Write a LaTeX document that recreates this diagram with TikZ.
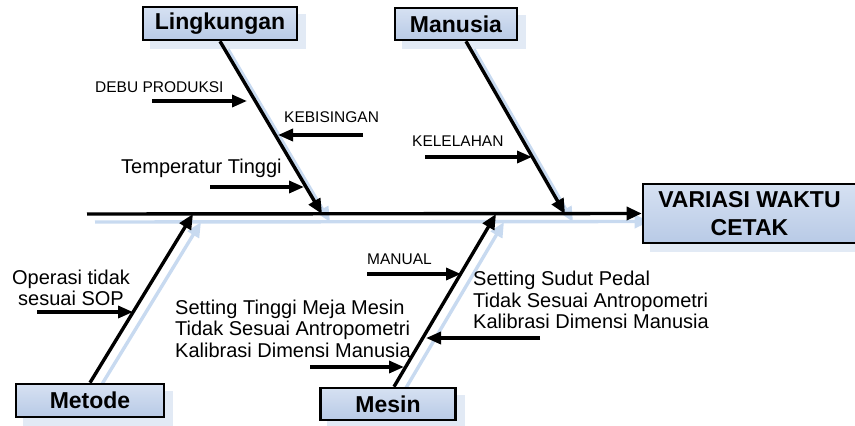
\documentclass[tikz,border=0pt]{standalone}
\usepackage{fontspec}
\setmainfont{Liberation Sans}
\usetikzlibrary{arrows.meta,backgrounds}

\definecolor{boxtop}{RGB}{214,225,242}
\definecolor{boxbot}{RGB}{184,202,230}
\definecolor{boxshade}{RGB}{226,234,245}
\definecolor{boneshade}{RGB}{200,218,240}

\begin{document}
\begin{tikzpicture}[x=1pt, y=-1pt,
  cat/.style={draw, line width=2.6pt, top color=boxtop, bottom color=boxbot,
    font=\fontsize{23}{28}\selectfont\bfseries, inner sep=0pt, align=center},
  bone/.style={line width=3.4pt, -{Triangle[length=15pt,width=13pt]}},
  sub/.style={line width=3.4pt, -{Triangle[length=15pt,width=12pt]}},
  caps/.style={font=\fontsize{15.5}{18}\selectfont, inner sep=0pt, anchor=west},
  txt/.style={font=\fontsize{20}{21.5}\selectfont, inner sep=0pt, anchor=west, align=left},
  bayang/.style={transform canvas={xshift=8pt, yshift=-8pt}}]
\useasboundingbox (0,0) rectangle (855,426);

% boxes
\node[cat, minimum width=154pt, minimum height=33pt] (lingkungan) at (220,23.5) {Lingkungan};
\node[cat, minimum width=122pt, minimum height=32pt] (manusia) at (456,24) {Manusia};
\node[cat, minimum width=148pt, minimum height=33pt] (metode) at (90,400.5) {Metode};
\node[cat, minimum width=135pt, minimum height=32pt] (mesin) at (388,404) {Mesin};
\node[cat, minimum width=213pt, minimum height=59pt] (akibat) at (749.5,213.5) {VARIASI WAKTU\\CETAK};

% spine and bones
\coordinate (ekor) at (87,214);
\coordinate (jL) at (322,214);
\coordinate (jU) at (565,214);
\coordinate (jT) at (193,214);
\coordinate (jS) at (496,214);

\begin{scope}[on background layer]
\foreach \b in {lingkungan, manusia, metode, mesin, akibat}
  \fill[boxshade, bayang] (\b.south west) rectangle (\b.north east);
\begin{scope}[bayang, draw=boneshade, color=boneshade]
\draw[bone] (ekor) -- (akibat.west);
\draw[bone] (lingkungan.south) -- (jL);
\draw[bone] ([xshift=10pt]manusia.south) -- (jU);
\draw[bone] (metode.north) -- (jT);
\draw[bone] ([xshift=6pt]mesin.north) -- (jS);
\end{scope}
\end{scope}

\draw[bone] (ekor) -- (akibat.west);
\draw[bone] (lingkungan.south) -- (jL);
\draw[bone] ([xshift=10pt]manusia.south) -- (jU);
\draw[bone] (metode.north) -- (jT);
\draw[bone] ([xshift=6pt]mesin.north) -- (jS);

% causes
\foreach \n/\xa/\xb/\y in {debu/152/247/101, bising/363/278/135, suhu/210/304/187,
    lelah/425/532/157, sop/37/133/312, manual/367/461/274,
    pedal/540/426/338, meja/310/404/367}
  {
  \coordinate (\n-a) at (\xa,\y);
  \coordinate (\n-b) at (\xb,\y);
  \draw[sub] (\n-a) -- (\n-b);
  }

\node[caps] (tdebu) at (95,87) {DEBU PRODUKSI};
\node[caps] (tbising) at (284,117) {KEBISINGAN};
\node[txt] (tsuhu) at (121,168) {Temperatur Tinggi};
\node[caps] (tlelah) at (412,141) {KELELAHAN};
\node[caps] (tmanual) at (367,259) {MANUAL};
\node[txt, align=center, anchor=center] (tsop) at (71,288) {Operasi tidak\\sesuai SOP};
\node[txt] (tmeja) at (175,328.5) {Setting Tinggi Meja Mesin\\Tidak Sesuai Antropometri\\Kalibrasi Dimensi Manusia};
\node[txt] (tpedal) at (473,300) {Setting Sudut Pedal\\Tidak Sesuai Antropometri\\Kalibrasi Dimensi Manusia};

\end{tikzpicture}
\end{document}
